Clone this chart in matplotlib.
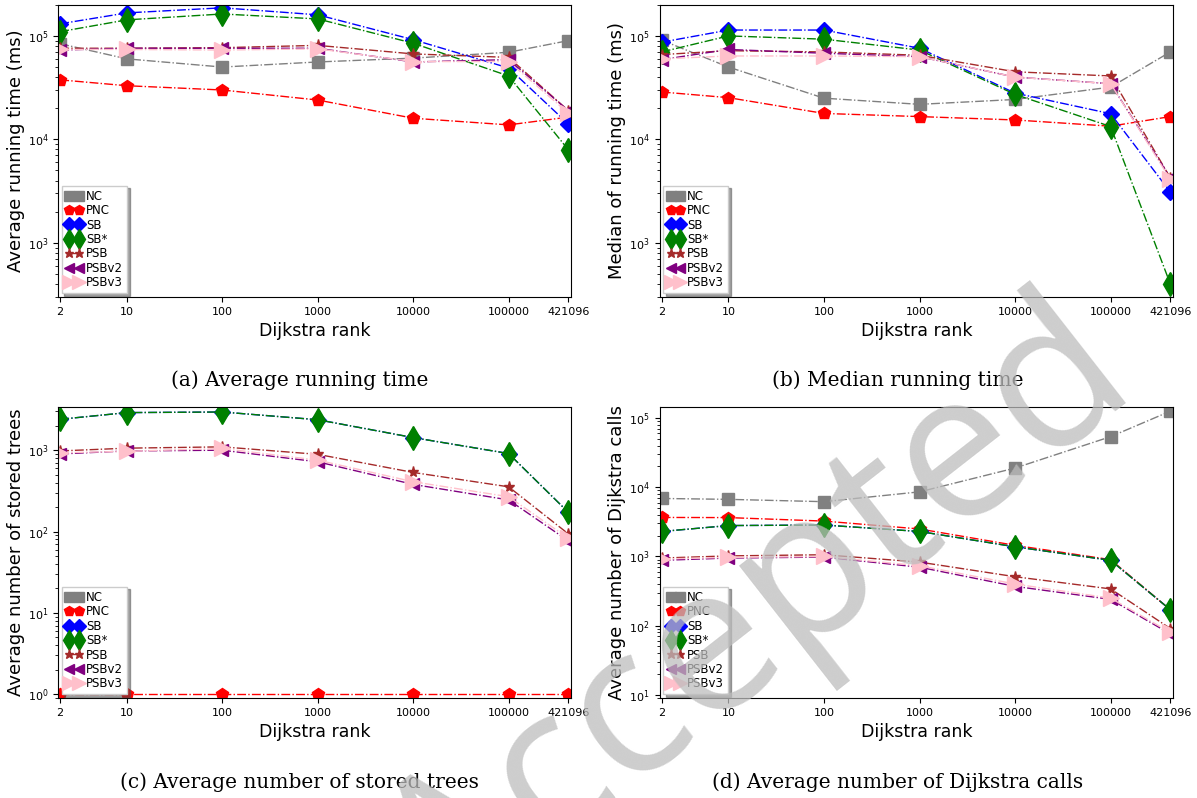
import matplotlib.pyplot as plt
from matplotlib.ticker import FixedLocator, FixedFormatter, NullLocator

ranks = [2, 10, 100, 1000, 10000, 100000, 421096]
rank_labels = ['2', '10', '100', '1000', '10000', '100000', '421096']
methods = ['NC', 'PNC', 'SB', 'SB*', 'PSB', 'PSBv2', 'PSBv3']

# (a) average running time (ms)
avg_nc = [8.4e4, 6.0e4, 5.0e4, 5.6e4, 6.1e4, 6.95e4, 9.0e4]
avg_pnc = [3.76e4, 3.3e4, 3.0e4, 2.4e4, 1.6e4, 1.38e4, 1.64e4]
avg_sb = [1.31e5, 1.67e5, 1.87e5, 1.6e5, 9.2e4, 4.9e4, 1.41e4]
avg_sbs = [1.1e5, 1.43e5, 1.63e5, 1.46e5, 8.5e4, 4.1e4, 7.96e3]
avg_psb = [7.6e4, 7.6e4, 7.7e4, 8.1e4, 6.7e4, 6.2e4, 1.9e4]
avg_psbv2 = [7.3e4, 7.6e4, 7.6e4, 7.6e4, 5.6e4, 5.9e4, 1.9e4]
avg_psbv3 = [7.4e4, 7.4e4, 7.3e4, 7.5e4, 5.65e4, 5.65e4, 1.8e4]

# (b) median running time (ms)
med_nc = [9.1e4, 5.0e4, 2.5e4, 2.18e4, 2.43e4, 3.2e4, 7.0e4]
med_pnc = [2.87e4, 2.53e4, 1.78e4, 1.66e4, 1.54e4, 1.34e4, 1.66e4]
med_sb = [8.7e4, 1.14e5, 1.14e5, 7.6e4, 2.8e4, 1.77e4, 3.1e3]
med_sbs = [7.0e4, 1.0e5, 9.3e4, 7.3e4, 2.72e4, 1.33e4, 400]
med_psb = [6.6e4, 7.2e4, 7.0e4, 6.5e4, 4.5e4, 4.1e4, 4.25e3]
med_psbv2 = [5.9e4, 7.4e4, 6.8e4, 6.3e4, 4.0e4, 3.45e4, 4.25e3]
med_psbv3 = [6.0e4, 6.4e4, 6.4e4, 6.3e4, 4.0e4, 3.45e4, 4.1e3]

# (c) average number of stored trees (NC stores none -> not drawn on log axis)
trees_nc = [0, 0, 0, 0, 0, 0, 0]
trees_pnc = [1, 1, 1, 1, 1, 1, 1]
trees_sb = [2.4e3, 2.9e3, 2.95e3, 2.37e3, 1.43e3, 910, 173]
trees_sbs = [2.4e3, 2.9e3, 2.95e3, 2.37e3, 1.43e3, 910, 173]
trees_psb = [980, 1060, 1100, 890, 533, 355, 94]
trees_psbv2 = [900, 980, 1000, 720, 380, 245, 77]
trees_psbv3 = [930, 970, 1050, 755, 410, 268, 83]

# (d) average number of Dijkstra calls
calls_nc = [6.9e3, 6.7e3, 6.2e3, 8.6e3, 1.9e4, 5.4e4, 1.26e5]
calls_pnc = [3.67e3, 3.65e3, 3.25e3, 2.5e3, 1.45e3, 900, 170]
calls_sb = [2.3e3, 2.8e3, 2.85e3, 2.3e3, 1.38e3, 880, 170]
calls_sbs = [2.3e3, 2.8e3, 2.85e3, 2.3e3, 1.38e3, 880, 170]
calls_psb = [950, 1020, 1060, 830, 510, 340, 91]
calls_psbv2 = [880, 950, 980, 700, 370, 240, 76]
calls_psbv3 = [920, 970, 1000, 735, 400, 250, 80]

styles = {
    'NC': dict(color='gray', marker='s', markersize=8),
    'PNC': dict(color='red', marker='p', markersize=9),
    'SB': dict(color='blue', marker='D', markersize=8),
    'SB*': dict(color='green', marker='d', markersize=12),
    'PSB': dict(color='brown', marker='*', markersize=8),
    'PSBv2': dict(color='purple', marker='<', markersize=9),
    'PSBv3': dict(color='pink', marker='>', markersize=12),
}

panels = [
    ([avg_nc, avg_pnc, avg_sb, avg_sbs, avg_psb, avg_psbv2, avg_psbv3],
     'Average running time (ms)', (300, 2.0e5), '(a) Average running time'),
    ([med_nc, med_pnc, med_sb, med_sbs, med_psb, med_psbv2, med_psbv3],
     'Median of running time (ms)', (300, 2.0e5), '(b) Median running time'),
    ([trees_nc, trees_pnc, trees_sb, trees_sbs, trees_psb, trees_psbv2, trees_psbv3],
     'Average number of stored trees', (0.9, 3.4e3), '(c) Average number of stored trees'),
    ([calls_nc, calls_pnc, calls_sb, calls_sbs, calls_psb, calls_psbv2, calls_psbv3],
     'Average number of Dijkstra calls', (9, 1.45e5), '(d) Average number of Dijkstra calls'),
]

# axes boxes in figure fraction [left, bottom, width, height]
boxes = [
    [0.0485, 0.628, 0.4285, 0.366],
    [0.551, 0.628, 0.429, 0.366],
    [0.0485, 0.1253, 0.4285, 0.3647],
    [0.551, 0.1253, 0.429, 0.3647],
]
caption_x = [0.25, 0.75, 0.25, 0.75]

fig = plt.figure(figsize=(11.97, 7.98), dpi=100)

for (series, ylabel, ylim, caption), box, cx in zip(panels, boxes, caption_x):
    ax = fig.add_axes(box)
    for name, values in zip(methods, series):
        ax.plot(ranks, values, linestyle='-.', linewidth=1, label=name, **styles[name])
    ax.set_xscale('log')
    ax.set_yscale('log')
    ax.set_xlim(1.9, 4.5e5)
    ax.set_ylim(*ylim)
    ax.xaxis.set_major_locator(FixedLocator(ranks))
    ax.xaxis.set_major_formatter(FixedFormatter(rank_labels))
    ax.xaxis.set_minor_locator(NullLocator())
    ax.tick_params(labelsize=8)
    ax.set_xlabel('Dijkstra rank', fontsize=12.5)
    ax.set_ylabel(ylabel, fontsize=13, labelpad=2)
    ax.legend(loc='lower left', numpoints=2, handlelength=1.4, fontsize=8.5,
              shadow=True, labelspacing=0.12, borderpad=0.35, handletextpad=0.3,
              borderaxespad=0.3, fancybox=False, markerscale=0.85)
    fig.text(cx, box[1] - 0.105, caption, ha='center', va='center', fontsize=14.5,
             family='DejaVu Serif')

# "Accepted" watermark over the figure
fig.text(0.635, 0.221, 'Accepted', fontsize=148, color='#bdbdbd', alpha=0.75,
         rotation=38, rotation_mode='anchor', ha='center', va='center',
         family='Open Sans', zorder=10)

fig.savefig('out.png', dpi=100)
